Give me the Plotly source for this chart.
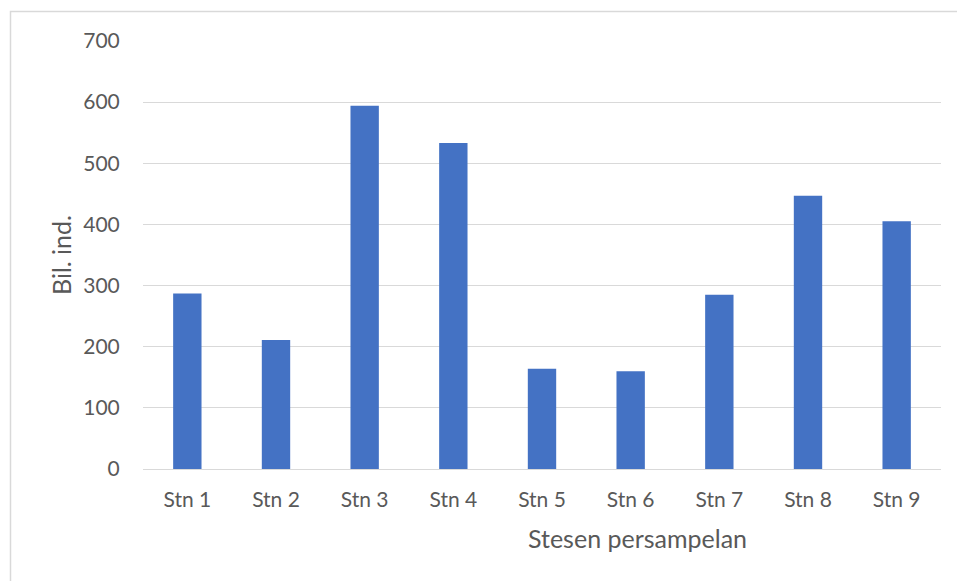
import plotly.graph_objects as go

categories = ["Stn 1", "Stn 2", "Stn 3", "Stn 4", "Stn 5", "Stn 6", "Stn 7", "Stn 8", "Stn 9"]
values = [287, 211, 594, 533, 164, 160, 285, 447, 405]
y_ticks = [0, 100, 200, 300, 400, 500, 600, 700]

FONT = "Lato, 'Open Sans', sans-serif"
TXT = "#595959"
TICK_SIZE = 21
TITLE_SIZE = 25

fig = go.Figure(go.Bar(x=categories, y=values, marker=dict(color="#4472C4", line=dict(width=0))))

fig.update_layout(
    width=957, height=581,
    margin=dict(l=143, r=16, t=41, b=112),
    paper_bgcolor="white", plot_bgcolor="white",
    bargap=0.68,
    showlegend=False,
    font=dict(family=FONT, color=TXT, size=TICK_SIZE),
)
fig.update_xaxes(
    showgrid=False, showline=False, zeroline=False,
    ticks="outside", ticklen=12, tickcolor="rgba(0,0,0,0)",
    tickfont=dict(family=FONT, size=TICK_SIZE, color=TXT),
)
fig.update_yaxes(
    range=[0, 700], tickvals=y_ticks,
    showgrid=True, gridcolor="#d9d9d9", gridwidth=1,
    zeroline=True, zerolinecolor="#d9d9d9", zerolinewidth=1,
    showline=False,
    ticks="outside", ticklen=18, tickcolor="rgba(0,0,0,0)",
    tickfont=dict(family=FONT, size=TICK_SIZE, color=TXT),
    title=dict(text="Bil. ind.", font=dict(family=FONT, size=TITLE_SIZE, color=TXT), standoff=4),
)
fig.add_annotation(
    text="Stesen persampelan", xref="paper", yref="paper",
    x=(637 - 143) / 798, y=-(538 - 469) / 428, xanchor="center", yanchor="middle",
    showarrow=False, font=dict(family=FONT, size=TITLE_SIZE, color=TXT),
)
fig.add_shape(
    type="rect", xref="paper", yref="paper",
    x0=(10.5 - 143) / 798, x1=(1000 - 143) / 798,
    y0=(469 - 620) / 428, y1=(469 - 11.5) / 428,
    line=dict(color="#d9d9d9", width=1.5), layer="below",
)

fig.write_html("out.html", config={"displayModeBar": False},
               post_script="document.body.style.margin='0';")
